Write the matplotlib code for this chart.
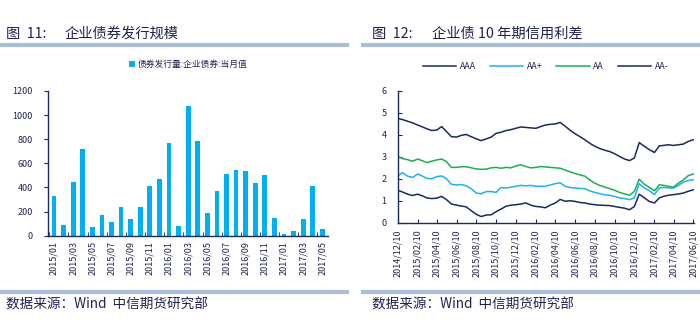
import numpy as np
import pandas as pd
import matplotlib
matplotlib.use("Agg")
from matplotlib import pyplot as plt
from matplotlib.lines import Line2D
import matplotlib.dates as mdates

plt.rcParams['font.family'] = ['Noto Sans CJK SC', 'DejaVu Sans']

# ---- data: bond issuance (left) ----
months = ["2015/01", "2015/02", "2015/03", "2015/04", "2015/05", "2015/06", "2015/07",
          "2015/08", "2015/09", "2015/10", "2015/11", "2015/12", "2016/01", "2016/02",
          "2016/03", "2016/04", "2016/05", "2016/06", "2016/07", "2016/08", "2016/09",
          "2016/10", "2016/11", "2016/12", "2017/01", "2017/02", "2017/03", "2017/04",
          "2017/05"]
issuance = [330, 88, 445, 720, 75, 171, 114, 239, 141, 239, 413, 470, 770, 80,
            1075, 785, 188, 370, 511, 545, 536, 437, 503, 149, 14, 39, 138, 412, 55]

# ---- data: 10y credit spreads (right), read every half month ----
start_months = pd.date_range("2014-12-01", "2017-06-01", freq="MS") + pd.Timedelta(days=9)
dates = []
for m in start_months:
    dates.append(m)
    dates.append(m + pd.Timedelta(days=15))
dates = dates[:61]

aaa = [1.48, 1.40, 1.30, 1.24, 1.30, 1.22, 1.13, 1.10, 1.12, 1.20, 1.05, 0.85, 0.80, 0.76,
       0.72, 0.55, 0.38, 0.28, 0.35, 0.36, 0.50, 0.62, 0.75, 0.80, 0.82, 0.85, 0.90, 0.80,
       0.74, 0.72, 0.68, 0.80, 0.90, 1.06, 0.98, 1.00, 0.97, 0.92, 0.90, 0.85, 0.82, 0.80,
       0.79, 0.78, 0.74, 0.70, 0.66, 0.59, 0.74, 1.30, 1.13, 0.97, 0.90, 1.13, 1.20, 1.25,
       1.28, 1.31, 1.35, 1.43, 1.50]
aa_plus = [2.12, 2.28, 2.12, 2.06, 2.22, 2.12, 2.02, 2.00, 2.10, 2.13, 2.00, 1.75, 1.72, 1.74,
           1.68, 1.55, 1.35, 1.32, 1.42, 1.42, 1.38, 1.60, 1.58, 1.62, 1.66, 1.70, 1.68, 1.70,
           1.66, 1.66, 1.66, 1.72, 1.78, 1.82, 1.66, 1.60, 1.58, 1.56, 1.55, 1.45, 1.38, 1.32,
           1.27, 1.25, 1.20, 1.13, 1.10, 1.05, 1.13, 1.78, 1.58, 1.46, 1.28, 1.58, 1.61, 1.58,
           1.58, 1.70, 1.85, 1.92, 1.96]
aa = [3.02, 2.92, 2.87, 2.80, 2.90, 2.82, 2.74, 2.80, 2.86, 2.90, 2.78, 2.52, 2.52, 2.55,
      2.55, 2.50, 2.45, 2.43, 2.44, 2.50, 2.52, 2.48, 2.52, 2.50, 2.58, 2.64, 2.56, 2.50,
      2.52, 2.56, 2.54, 2.52, 2.50, 2.48, 2.40, 2.32, 2.24, 2.18, 2.12, 1.95, 1.80, 1.70,
      1.62, 1.55, 1.48, 1.38, 1.31, 1.25, 1.43, 1.98, 1.75, 1.61, 1.45, 1.73, 1.70, 1.66,
      1.62, 1.80, 1.95, 2.14, 2.22]
aa_minus = [4.75, 4.70, 4.62, 4.55, 4.45, 4.36, 4.28, 4.20, 4.22, 4.38, 4.15, 3.92, 3.90, 3.98,
            4.02, 3.92, 3.82, 3.74, 3.82, 3.90, 4.07, 4.12, 4.20, 4.24, 4.30, 4.36, 4.34, 4.32,
            4.30, 4.38, 4.45, 4.48, 4.50, 4.57, 4.40, 4.22, 4.05, 3.92, 3.78, 3.62, 3.48, 3.38,
            3.30, 3.24, 3.14, 3.02, 2.90, 2.83, 2.95, 3.65, 3.48, 3.33, 3.20, 3.50, 3.52, 3.55,
            3.52, 3.55, 3.58, 3.70, 3.78]

navy = "#1B2A5E"
txt = "#1F2350"
sep = "#A9BCD8"

fig = plt.figure(figsize=(7, 3.23), dpi=100)

# ---------- left chart ----------
ax1 = fig.add_axes([0.069, 0.2703, 0.3996, 0.448])
x = np.arange(len(months))
ax1.bar(x, issuance, width=0.5, color="#00B0F0", label="债券发行量:企业债券:当月值")
ax1.set_xlim(-0.6, len(months) - 0.4)
ax1.set_ylim(0, 1200)
ax1.set_yticks(range(0, 1201, 200))
ax1.set_xticks(x[::2])
ax1.set_xticklabels(months[::2], rotation=90, fontsize=6.5, color=txt)
ax1.set_xticks(np.arange(-0.5, len(months), 2), minor=True)
ax1.tick_params(axis="x", which="major", length=0, pad=4)
ax1.tick_params(axis="x", which="minor", direction="in", length=3, color=navy)
ax1.tick_params(axis="y", labelsize=6.5, labelcolor=txt, length=3, color=navy, pad=8)
for s in ["top", "right"]:
    ax1.spines[s].set_visible(False)
for s in ["left", "bottom"]:
    ax1.spines[s].set_color(navy)
    ax1.spines[s].set_linewidth(1.0)
ax1.legend(loc="lower center", bbox_to_anchor=(0.5, 1.10), frameon=False, fontsize=6.3,
           handlelength=0.7, handleheight=0.7, handletextpad=0.3, labelcolor=txt)

# ---------- right chart ----------
ax2 = fig.add_axes([0.568, 0.3105, 0.4234, 0.4078])
ax2.plot(dates, aaa, color=navy, lw=1.1, label="AAA")
ax2.plot(dates, aa_plus, color="#1EB1EE", lw=1.1, label="AA+")
ax2.plot(dates, aa, color="#1BAF54", lw=1.1, label="AA")
ax2.plot(dates, aa_minus, color=navy, lw=1.1, label="AA-")
ax2.set_ylim(0, 6)
ax2.set_xlim(pd.Timestamp("2014-12-10"), pd.Timestamp("2017-06-12"))
ticks = pd.date_range("2014-12-01", "2017-06-30", freq="2MS") + pd.Timedelta(days=9)
ax2.set_xticks(ticks)
ax2.xaxis.set_major_formatter(mdates.DateFormatter("%Y/%m/%d"))
plt.setp(ax2.get_xticklabels(), rotation=90, fontsize=6.5, color=txt)
ax2.tick_params(axis="x", direction="in", length=3, color=navy, pad=5)
ax2.tick_params(axis="y", direction="in", length=3, color=navy, labelsize=6.5,
                labelcolor=txt, pad=8)
for s in ["top", "right"]:
    ax2.spines[s].set_visible(False)
for s in ["left", "bottom"]:
    ax2.spines[s].set_color(navy)
    ax2.spines[s].set_linewidth(1.0)
ax2.legend(loc="lower center", bbox_to_anchor=(0.5, 1.09), ncol=4, frameon=False,
           fontsize=6.3, handlelength=3.8, handletextpad=0.4, columnspacing=1.6,
           labelcolor=txt)

# ---------- titles, separators, sources ----------
ty = 1 - 34 / 323
fig.text(6 / 700, ty, "图  11:", fontsize=10.3, color=txt, va="center")
fig.text(65 / 700, ty, "企业债券发行规模", fontsize=10.3, color=txt, va="center")
fig.text(372 / 700, ty, "图  12:", fontsize=10.3, color=txt, va="center")
fig.text(432 / 700, ty, "企业债 10 年期信用利差", fontsize=10.3, color=txt, va="center")
fig.add_artist(Line2D([0, 347 / 700], [1 - 45 / 323] * 2, color=sep, lw=3))
fig.add_artist(Line2D([363 / 700, 1], [1 - 45 / 323] * 2, color=sep, lw=3))
fig.add_artist(Line2D([0, 347 / 700], [1 - 292 / 323] * 2, color=sep, lw=3))
fig.add_artist(Line2D([363 / 700, 1], [1 - 292 / 323] * 2, color=sep, lw=3))
fy = 1 - 304 / 323
fig.text(6 / 700, fy, "数据来源：Wind  中信期货研究部", fontsize=9.8, color=txt, va="center")
fig.text(372 / 700, fy, "数据来源：Wind  中信期货研究部", fontsize=9.8, color=txt, va="center")

fig.savefig("out.png", dpi=100)
